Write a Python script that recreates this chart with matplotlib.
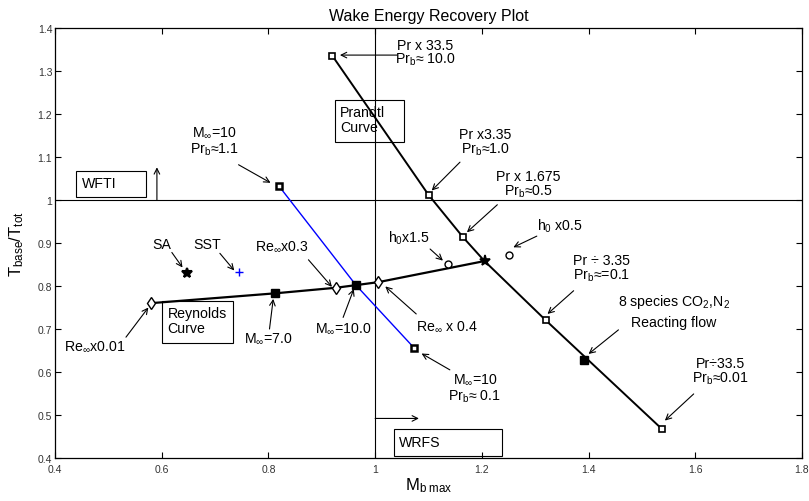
import matplotlib
matplotlib.use('Agg')
import matplotlib.pyplot as plt
from matplotlib.patches import Rectangle

# Prandtl curve (open squares along the line)
prandtl_x = [0.920, 1.100, 1.165, 1.205, 1.320, 1.537]
prandtl_y = [1.335, 1.012, 0.913, 0.858, 0.720, 0.468]

# Reynolds curve
reynolds_x = [0.579, 0.813, 0.927, 0.964, 1.006, 1.205]
reynolds_y = [0.760, 0.783, 0.796, 0.802, 0.809, 0.858]
re_diamond_x = [0.579, 0.927, 1.006]
re_diamond_y = [0.760, 0.796, 0.809]
mach_filled_x = [0.813, 0.964]
mach_filled_y = [0.783, 0.802]

# Mach 10 line (blue)
mach10_x = [0.820, 0.964, 1.073]
mach10_y = [1.032, 0.802, 0.656]

# single points
reacting_x, reacting_y = 1.392, 0.629
h0_x = [1.137, 1.250]
h0_y = [0.851, 0.873]
base_x, base_y = 1.205, 0.858
sa_x, sa_y = 0.648, 0.830
sst_x, sst_y = 0.745, 0.832

plt.rcParams['font.family'] = ['Liberation Sans', 'DejaVu Sans']
plt.rcParams['mathtext.fontset'] = 'custom'
plt.rcParams['mathtext.rm'] = 'Liberation Sans'
plt.rcParams['mathtext.it'] = 'Liberation Sans:italic'
plt.rcParams['mathtext.default'] = 'regular'

fig = plt.figure(figsize=(8.09, 5.02), dpi=100)
ax = fig.add_axes([55/809, 43/502, 747/809, 430/502])

# reference lines
ax.axhline(1.0, color='k', lw=0.8, zorder=1)
ax.axvline(1.0, color='k', lw=0.8, zorder=1)

# curves
ax.plot(mach10_x, mach10_y, color='#0000ff', lw=1.0, zorder=2)
ax.plot(prandtl_x, prandtl_y, color='k', lw=1.4, zorder=3)
ax.plot(reynolds_x, reynolds_y, color='k', lw=1.6, zorder=3)

# markers
ax.plot(prandtl_x[:3] + prandtl_x[4:], prandtl_y[:3] + prandtl_y[4:], 's', ms=4.5,
        mfc='white', mec='k', mew=1.2, ls='none', zorder=4)
ax.plot([mach10_x[0], mach10_x[2]], [mach10_y[0], mach10_y[2]], 's', ms=5,
        mfc='white', mec='k', mew=1.8, ls='none', zorder=4)
ax.plot(mach_filled_x, mach_filled_y, 's', ms=5.5, color='k', ls='none', zorder=4)
ax.plot(reacting_x, reacting_y, 's', ms=5.5, color='k', zorder=4)
ax.plot(re_diamond_x, re_diamond_y, 'd', ms=6, mfc='white', mec='k', mew=1.0,
        ls='none', zorder=4)
ax.plot(h0_x, h0_y, 'o', ms=5, mfc='white', mec='k', mew=1.0, ls='none', zorder=4)
ax.plot(base_x, base_y, '*', ms=8, color='k', mew=1.2, zorder=4)
ax.plot(sa_x, sa_y, '*', ms=7, color='k', mew=1.5, zorder=4)
ax.plot(sst_x, sst_y, '+', ms=6, color='#0000ff', mew=1.0, zorder=4)


def arrow(tail, tip):
    ax.annotate('', xy=tip, xytext=tail,
                arrowprops=dict(arrowstyle='->', color='k', lw=0.8,
                                shrinkA=0, shrinkB=0, mutation_scale=10))


fs = 10.2
# annotations
ax.text(1.094, 1.343, 'Pr x 33.5\nPr$_b$≈ 10.0', fontsize=fs, ha='center', va='center',
        linespacing=0.95)
arrow((1.041, 1.337), (0.934, 1.337))

ax.text(0.698, 1.137, 'M$_\\infty$=10\nPr$_b$≈1.1', fontsize=fs, ha='center', va='center',
        linespacing=1.1)
arrow((0.744, 1.082), (0.804, 1.040))

ax.text(1.207, 1.135, 'Pr x3.35\nPr$_b$≈1.0', fontsize=fs, ha='center', va='center',
        linespacing=0.95)
arrow((1.159, 1.088), (1.106, 1.022))

ax.text(1.287, 1.037, 'Pr x 1.675\nPr$_b$≈0.5', fontsize=fs, ha='center', va='center',
        linespacing=0.95)
arrow((1.229, 0.989), (1.172, 0.925))

ax.text(1.347, 0.940, 'h$_0$ x0.5', fontsize=fs, ha='center', va='center')
arrow((1.303, 0.916), (1.259, 0.890))

ax.text(1.064, 0.914, 'h$_0$x1.5', fontsize=fs, ha='center', va='center')
arrow((1.103, 0.886), (1.127, 0.859))

ax.text(0.600, 0.898, 'SA', fontsize=fs, ha='center', va='center')
arrow((0.619, 0.878), (0.639, 0.843))

ax.text(0.685, 0.898, 'SST', fontsize=fs, ha='center', va='center')
arrow((0.709, 0.876), (0.736, 0.836))

ax.text(0.825, 0.893, 'Re$_\\infty$x0.3', fontsize=fs, ha='center', va='center')
arrow((0.875, 0.861), (0.919, 0.798))

ax.text(0.474, 0.661, 'Re$_\\infty$x0.01', fontsize=fs, ha='center', va='center')
arrow((0.533, 0.681), (0.575, 0.750))

ax.text(0.799, 0.679, 'M$_\\infty$=7.0', fontsize=fs, ha='center', va='center')
arrow((0.802, 0.700), (0.809, 0.770))

ax.text(0.940, 0.702, 'M$_\\infty$=10.0', fontsize=fs, ha='center', va='center')
arrow((0.940, 0.727), (0.960, 0.793))

ax.text(1.135, 0.707, 'Re$_\\infty$ x 0.4', fontsize=fs, ha='center', va='center')
arrow((1.077, 0.735), (1.019, 0.799))

ax.text(1.187, 0.563, 'M$_\\infty$=10\nPr$_b$≈ 0.1', fontsize=fs, ha='center', va='center',
        linespacing=1.1)
arrow((1.140, 0.605), (1.087, 0.643))

ax.text(1.425, 0.842, 'Pr ÷ 3.35\nPr$_b$≈=0.1', fontsize=fs, ha='center', va='center',
        linespacing=0.95)
arrow((1.372, 0.789), (1.323, 0.735))

ax.text(1.560, 0.766, '8 species CO$_2$,N$_2$', fontsize=fs, ha='center', va='center')
ax.text(1.560, 0.717, 'Reacting flow', fontsize=fs, ha='center', va='center')
arrow((1.456, 0.698), (1.400, 0.642))

ax.text(1.648, 0.602, 'Pr÷33.5\nPr$_b$≈0.01', fontsize=fs, ha='center', va='center',
        linespacing=0.95)
arrow((1.597, 0.549), (1.543, 0.487))

# boxed region labels
boxes = [((0.440, 1.006), 0.130, 0.062, 'WFTI', (0.450, 1.040)),
         ((0.924, 1.134), 0.130, 0.099, 'Prandtl\nCurve', (0.934, 1.187)),
         ((0.601, 0.668), 0.133, 0.098, 'Reynolds\nCurve', (0.611, 0.720)),
         ((1.036, 0.405), 0.201, 0.062, 'WRFS', (1.045, 0.437))]
for (bx, by), bw, bh, label, pos in boxes:
    ax.add_patch(Rectangle((bx, by), bw, bh, fill=False, ec='k', lw=0.8, zorder=2))
    ax.text(pos[0], pos[1], label, fontsize=fs, ha='left', va='center',
            linespacing=1.05, zorder=5)

# WFTI / WRFS direction arrows
arrow((0.591, 1.0), (0.591, 1.076))
arrow((1.0, 0.492), (1.082, 0.492))

ax.set_xlim(0.4, 1.8)
ax.set_ylim(0.4, 1.4)
ax.set_xticks([0.4, 0.6, 0.8, 1.0, 1.2, 1.4, 1.6, 1.8])
ax.set_xticklabels(['0.4', '0.6', '0.8', '1', '1.2', '1.4', '1.6', '1.8'])
ax.set_yticks([0.4, 0.5, 0.6, 0.7, 0.8, 0.9, 1.0, 1.1, 1.2, 1.3, 1.4])
ax.set_yticklabels(['0.4', '0.5', '0.6', '0.7', '0.8', '0.9', '1', '1.1', '1.2', '1.3', '1.4'])
ax.tick_params(direction='in', top=True, right=True, length=4.5, width=0.8,
               labelsize=7.5, colors='k', labelcolor='#333333')
ax.tick_params(axis='x', pad=4)
ax.tick_params(axis='y', pad=2)
for s in ax.spines.values():
    s.set_linewidth(0.9)

ax.set_title('Wake Energy Recovery Plot', fontsize=11.5, pad=6)
ax.set_xlabel('M$_{b\\ max}$', fontsize=12, labelpad=1)
ax.set_ylabel('T$_{base}$/T$_{tot}$', fontsize=12, labelpad=8)

fig.savefig('out.png', dpi=100)
